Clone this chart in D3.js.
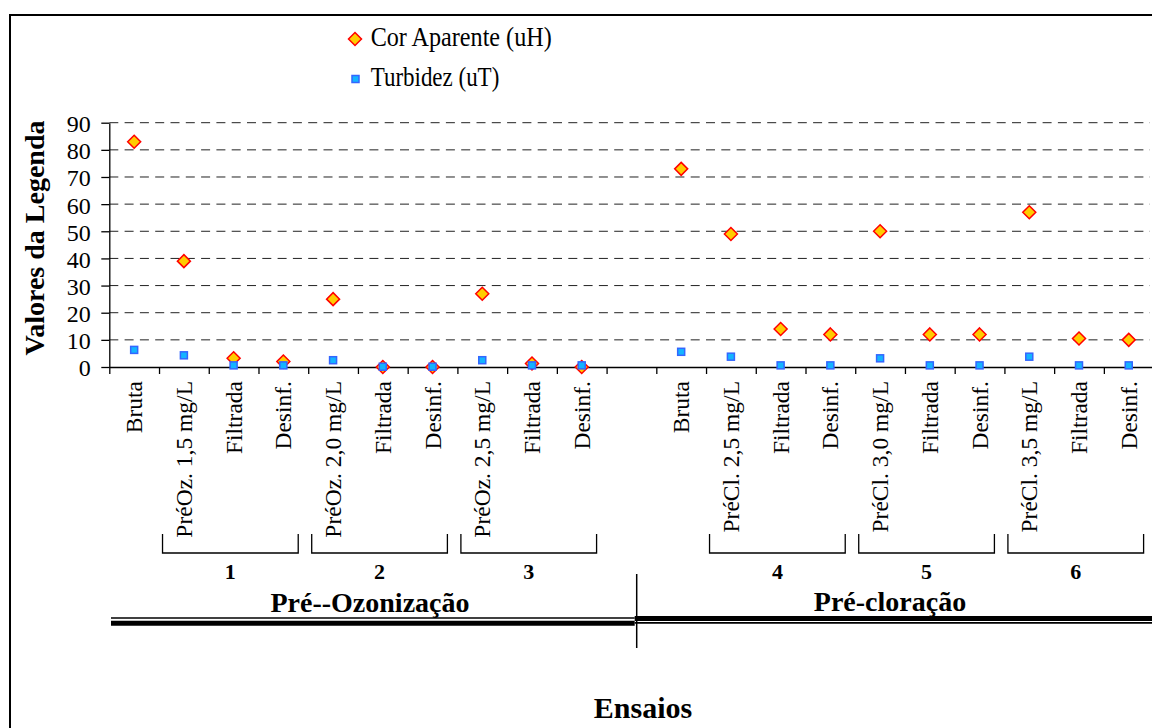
<!DOCTYPE html>
<html>
<head>
<meta charset="utf-8">
<script src="https://cdn.jsdelivr.net/npm/d3@7"></script>
<style>
  body { margin: 0; background: #fff; }
  svg text { font-family: "Liberation Serif", "Times New Roman", "DejaVu Serif", serif; }
</style>
</head>
<body>
<svg width="1152" height="728"></svg>
<script>
// categories along the x axis (the empty one is the gap between the two phases)
let categories = [
  'Bruta', 'PréOz. 1,5 mg/L', 'Filtrada', 'Desinf.', 'PréOz. 2,0 mg/L', 'Filtrada', 'Desinf.',
  'PréOz. 2,5 mg/L', 'Filtrada', 'Desinf.', '',
  'Bruta', 'PréCl. 2,5 mg/L', 'Filtrada', 'Desinf.', 'PréCl. 3,0 mg/L', 'Filtrada', 'Desinf.',
  'PréCl. 3,5 mg/L', 'Filtrada', 'Desinf.'
];
let corAparente = [83, 39, 3.2, 2, 25, 0, 0, 27, 1.3, 0, null, 73, 49, 14, 12, 50, 12, 12, 57, 10.5, 10];
let turbidez = [6.3, 4.3, 0.6, 0.6, 2.5, 0.1, 0.1, 2.5, 0.6, 0.6, null, 5.6, 3.8, 0.6, 0.6, 3.2, 0.6, 0.6, 3.8, 0.6, 0.6];
let yTicks = [0, 10, 20, 30, 40, 50, 60, 70, 80, 90];
let ensaios = ['1', '2', '3', '4', '5', '6'];
let ensaioStart = [1, 4, 7, 12, 15, 18];
let fases = ['Pré--Ozonização', 'Pré-cloração'];
let legendNames = ['Cor Aparente (uH)', 'Turbidez (uT)'];

const serif = '"Liberation Serif", "Times New Roman", serif';
let svg = d3.select('svg');

// outer chart border (right/bottom edges fall outside the picture)
svg.append('rect')
  .attr('x', 10).attr('y', 15)
  .attr('width', 1200).attr('height', 800)
  .attr('fill', 'none').attr('stroke', '#000').attr('stroke-width', 2);

let left = 109.3, right = 1153.6;
let x = d3.scaleBand().domain(d3.range(categories.length)).range([left, right]);
let xb = d3.scaleLinear().domain([0, categories.length]).range([left, right]);
let y = d3.scaleLinear().domain([0, 90]).range([367, 122.7]);

// gridlines
svg.append('g')
  .selectAll('line')
  .data(yTicks.filter((d) => d > 0))
  .enter()
  .append('line')
  .attr('x1', left).attr('x2', 1150)
  .attr('y1', (d) => y(d)).attr('y2', (d) => y(d))
  .attr('stroke', '#222')
  .attr('stroke-width', 1)
  .attr('stroke-dasharray', '9,6.3');

// y axis
let yAxis = svg.append('g')
  .attr('transform', `translate(${left},0)`)
  .call(d3.axisLeft(y).tickValues(yTicks).tickSize(8).tickSizeOuter(0).tickPadding(10.6));
yAxis.attr('font-family', serif);
yAxis.select('.domain').attr('stroke', '#000').attr('stroke-width', 1.3);
yAxis.selectAll('.tick line').attr('stroke', '#000').attr('stroke-width', 1.3);
yAxis.selectAll('text')
  .attr('font-family', serif)
  .attr('font-size', 24)
  .attr('fill', '#000')
  .attr('dy', '0.37em');

// x axis with ticks on category boundaries
let xAxis = svg.append('g')
  .attr('transform', 'translate(0,367)')
  .call(d3.axisBottom(xb).ticks(categories.length).tickSize(7).tickSizeOuter(0).tickFormat(''));
xAxis.select('.domain').attr('stroke', '#000').attr('stroke-width', 1.5);
xAxis.selectAll('.tick line').attr('stroke', '#000').attr('stroke-width', 1.3);

// category labels
svg.append('g')
  .selectAll('text')
  .data(categories)
  .enter()
  .append('text')
  .attr('transform', (d, i) => `translate(${x(i) + x.bandwidth() / 2 + 8},381) rotate(-90)`)
  .attr('text-anchor', 'end')
  .attr('font-family', serif)
  .attr('font-size', 23.5)
  .text((d) => d);

// y title
svg.append('text')
  .attr('transform', 'translate(43.5,238) rotate(-90)')
  .attr('text-anchor', 'middle')
  .attr('font-family', serif)
  .attr('font-size', 28)
  .attr('font-weight', 'bold')
  .text('Valores da Legenda');

// markers
let diamond = 'M0,-6.5L6.5,0L0,6.5L-6.5,0Z';
svg.append('g')
  .selectAll('path')
  .data(corAparente.map((v, i) => ({ v, i })).filter((d) => d.v !== null))
  .enter()
  .append('path')
  .attr('d', diamond)
  .attr('transform', (d) => `translate(${x(d.i) + x.bandwidth() / 2},${y(d.v)})`)
  .attr('fill', '#FFCC00')
  .attr('stroke', '#FF0000')
  .attr('stroke-width', 1.5);

svg.append('g')
  .selectAll('rect')
  .data(turbidez.map((v, i) => ({ v, i })).filter((d) => d.v !== null))
  .enter()
  .append('rect')
  .attr('x', (d) => x(d.i) + x.bandwidth() / 2 - 3.5)
  .attr('y', (d) => y(d.v) - 3.5)
  .attr('width', 7).attr('height', 7)
  .attr('fill', '#14B4FF')
  .attr('stroke', '#3366FF')
  .attr('stroke-width', 1.5);

// legend
svg.append('path').attr('d', diamond).attr('transform', 'translate(355,39)')
  .attr('fill', '#FFCC00').attr('stroke', '#FF0000').attr('stroke-width', 1.5);
svg.append('rect').attr('x', 352).attr('y', 75.5).attr('width', 7).attr('height', 7)
  .attr('fill', '#14B4FF').attr('stroke', '#3366FF').attr('stroke-width', 1.5);
svg.append('text').attr('x', 370.7).attr('y', 46).attr('font-family', serif).attr('font-size', 27)
  .attr('textLength', 181).attr('lengthAdjust', 'spacingAndGlyphs').text(legendNames[0]);
svg.append('text').attr('x', 370.7).attr('y', 86).attr('font-family', serif).attr('font-size', 27)
  .attr('textLength', 128.6).attr('lengthAdjust', 'spacingAndGlyphs').text(legendNames[1]);

// ensaio brackets
let br = svg.append('g');
ensaios.forEach((e, k) => {
  let s = ensaioStart[k];
  let x0 = xb(s) + 3.5;
  let x1 = xb(s + 3) - 10;
  br.append('path')
    .attr('d', `M${x0},534V553H${x1}V534`)
    .attr('fill', 'none')
    .attr('stroke', '#000')
    .attr('stroke-width', 1.3);
  br.append('text')
    .attr('x', (x0 + x1) / 2)
    .attr('y', 579)
    .attr('text-anchor', 'middle')
    .attr('font-family', serif)
    .attr('font-size', 22)
    .attr('font-weight', 'bold')
    .text(e);
});

// phase separators and labels
let sep = 636.7;
let lines = svg.append('g').attr('stroke', '#000');
lines.append('line').attr('x1', 111).attr('x2', sep - 2).attr('y1', 618).attr('y2', 618).attr('stroke-width', 1.6);
lines.append('line').attr('x1', 111).attr('x2', sep - 2).attr('y1', 623.2).attr('y2', 623.2).attr('stroke-width', 5);
lines.append('line').attr('x1', sep - 2).attr('x2', 1160).attr('y1', 618.5).attr('y2', 618.5).attr('stroke-width', 5);
lines.append('line').attr('x1', sep - 2).attr('x2', 1160).attr('y1', 622.9).attr('y2', 622.9).attr('stroke-width', 1.6);
lines.append('line').attr('x1', sep).attr('x2', sep).attr('y1', 574).attr('y2', 648).attr('stroke-width', 1.5);

svg.append('text').attr('x', 370).attr('y', 612).attr('text-anchor', 'middle').attr('font-family', serif)
  .attr('font-size', 28).attr('font-weight', 'bold').text(fases[0]);
svg.append('text').attr('x', 890).attr('y', 611).attr('text-anchor', 'middle').attr('font-family', serif)
  .attr('font-size', 28).attr('font-weight', 'bold').text(fases[1]);

// x title
svg.append('text').attr('x', 643).attr('y', 718).attr('text-anchor', 'middle').attr('font-family', serif)
  .attr('font-size', 30).attr('font-weight', 'bold').text('Ensaios');
</script>
</body>
</html>
